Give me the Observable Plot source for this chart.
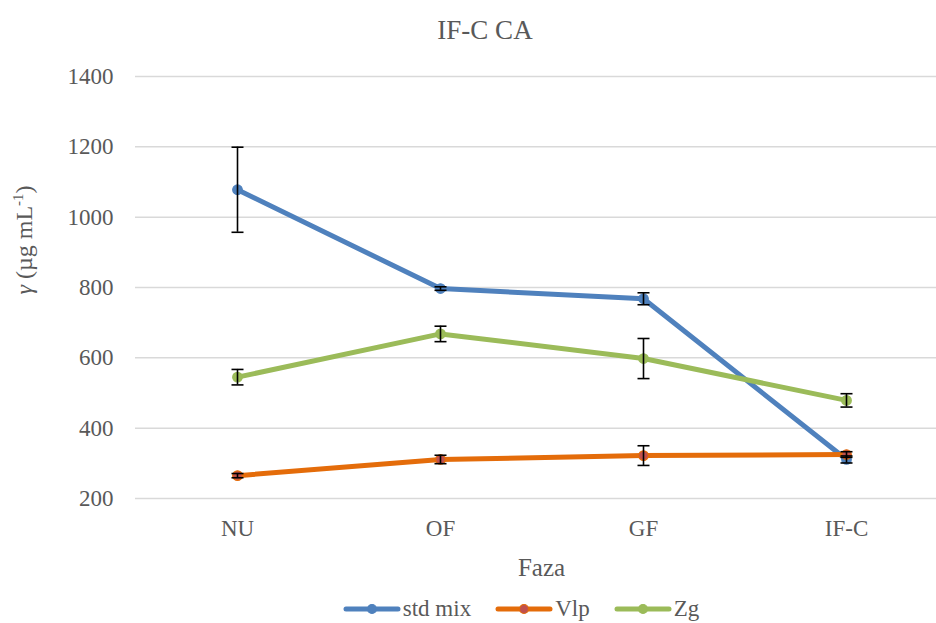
<!DOCTYPE html>
<html>
<head>
<meta charset="utf-8">
<script src="https://cdn.jsdelivr.net/npm/d3@7"></script>
<script src="https://cdn.jsdelivr.net/npm/@observablehq/plot@0.6"></script>
<style>
  html, body { margin: 0; padding: 0; background: #fff; }
  #chart svg { max-width: none !important; display: block; }
</style>
</head>
<body>
<div id="wrap" style="position:relative;width:936px;height:623px;overflow:hidden;font-family:'Liberation Serif';color:#595959;">
  <div id="title" style="height:50px;width:970px;text-align:center;font-family:'Liberation Serif';font-size:27px;line-height:60px;color:#595959;">IF-C CA</div>
  <div id="chart"></div>
  <div id="legend" style="height:33px;width:1042px;display:flex;justify-content:center;align-items:center;font-family:'Liberation Serif';font-size:23px;color:#595959;padding-top:2px;"></div>
</div>
<script>
const categories = ["NU", "OF", "GF", "IF-C"];
const seriesNames = ["std mix", "Vlp", "Zg"];
const stdMix = [1078, 797, 768, 311];
const stdMixErr = [121, 5, 17, 10];
const vlp = [265, 311, 322, 325];
const vlpErr = [6, 12, 28, 8];
const zg = [545, 668, 598, 479];
const zgErr = [22, 22, 57, 19];
const yTicks = [200, 400, 600, 800, 1000, 1200, 1400];
const lineColors = ["#4F81BD", "#E46C0A", "#9BBB59"];
const markerFill = ["#4F81BD", "#C0504D", "#9BBB59"];

const serif = "Liberation Serif";
const values = [stdMix, vlp, zg];
const errs = [stdMixErr, vlpErr, zgErr];
const data = [];
seriesNames.forEach((s, i) => categories.forEach((c, j) => data.push({series: s, cat: c, v: values[i][j], e: errs[i][j], si: i})));

const capSymbol = {draw(ctx, size) { const w = 6; ctx.moveTo(-w, 0); ctx.lineTo(w, 0); }};

const marks = [Plot.ruleY(yTicks, {stroke: "#d9d9d9", strokeWidth: 1.5, strokeOpacity: 1})];
seriesNames.forEach((s, i) => {
  const d = data.filter(r => r.series === s);
  marks.push(Plot.line(d, {x: "cat", y: "v", stroke: lineColors[i], strokeWidth: 5, strokeLinecap: "round", strokeLinejoin: "round"}));
  marks.push(Plot.dot(d, {x: "cat", y: "v", r: 4.8, fill: markerFill[i], stroke: lineColors[i], strokeWidth: 1.2}));
});
seriesNames.forEach((s, i) => {
  const d = data.filter(r => r.series === s);
  marks.push(Plot.ruleX(d, {x: "cat", y1: r => r.v - r.e, y2: r => r.v + r.e, stroke: "#000", strokeWidth: 1.6}));
  marks.push(Plot.dot(d, {x: "cat", y: r => r.v + r.e, symbol: capSymbol, stroke: "#000", strokeWidth: 1.6, fill: "none", r: 3}));
  marks.push(Plot.dot(d, {x: "cat", y: r => r.v - r.e, symbol: capSymbol, stroke: "#000", strokeWidth: 1.6, fill: "none", r: 3}));
});
marks.push(Plot.text(["Faza"], {frameAnchor: "bottom", dy: 69, fontSize: 25, fontFamily: serif, fill: "#595959", lineAnchor: "middle"}));

const chart = Plot.plot({
  width: 947,
  height: 540,
  marginTop: 26,
  marginBottom: 92,
  marginLeft: 135,
  marginRight: 0,
  style: {fontFamily: serif, fontSize: "23px", color: "#595959", background: "#fff", maxWidth: "none", overflow: "visible"},
  x: {type: "point", domain: categories, padding: 0.5, label: null, tickSize: 0, tickPadding: 21},
  y: {domain: [200, 1400], ticks: yTicks, tickFormat: d => String(d), label: null, tickSize: 0, tickPadding: 22},
  marks
});
document.getElementById("chart").appendChild(chart);
d3.select(chart).selectAll("text").attr("font-family", serif);

// y axis title with italic gamma and superscript
const svg = d3.select(chart);
const t = svg.append("text")
  .attr("transform", "translate(32,190) rotate(-90)")
  .attr("text-anchor", "middle")
  .attr("fill", "#595959")
  .attr("font-family", serif)
  .attr("font-size", 24);
t.append("tspan").attr("font-style", "italic").text("γ");
t.append("tspan").text(" (µg mL");
t.append("tspan").attr("font-size", 15).attr("dy", -9).text("-1");
t.append("tspan").attr("dy", 9).text(")");

// legend
const legend = document.getElementById("legend");
seriesNames.forEach((s, i) => {
  const item = document.createElement("div");
  item.style.cssText = "display:flex;align-items:center;margin:0 12px;";
  item.innerHTML = `<svg width="58" height="12" style="margin-right:2px"><line x1="3" y1="6" x2="55" y2="6" stroke="${lineColors[i]}" stroke-width="5" stroke-linecap="round"/><circle cx="29" cy="6" r="4.5" fill="${markerFill[i]}" stroke="${lineColors[i]}" stroke-width="1.2"/></svg><span style="font-family:'Liberation Serif'">${s}</span>`;
  legend.appendChild(item);
});
</script>
</body>
</html>
